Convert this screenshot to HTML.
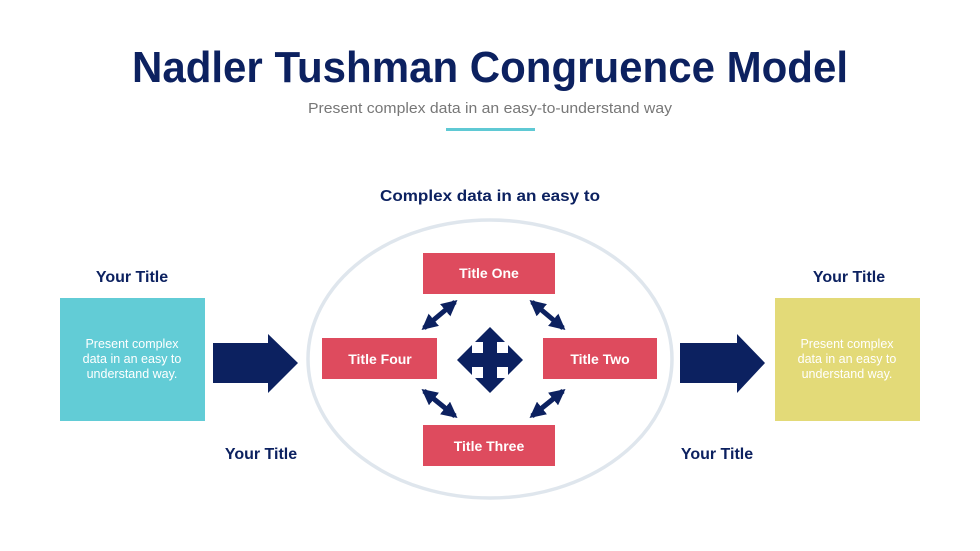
<!DOCTYPE html>
<html><head><meta charset="utf-8"><style>
html,body{margin:0;padding:0;background:#fff;width:980px;height:551px;overflow:hidden}
svg{display:block}
text{font-family:"Liberation Sans",sans-serif}
</style></head><body>
<svg width="980" height="551" viewBox="0 0 980 551">
<defs>
<marker id="ah" viewBox="0 0 10 10" refX="8" refY="5" markerWidth="3.2" markerHeight="3.2" orient="auto-start-reverse">
<path d="M0,0 L10,5 L0,10 z" fill="#0c2160"/></marker>
</defs>
<text x="490" y="82" text-anchor="middle" font-size="44" font-weight="bold" fill="#0c2160" textLength="716" lengthAdjust="spacingAndGlyphs">Nadler Tushman Congruence Model</text>
<text x="490" y="113" text-anchor="middle" font-size="15" fill="#777" textLength="364" lengthAdjust="spacingAndGlyphs">Present complex data in an easy-to-understand way</text>
<rect x="446" y="128" width="89" height="3" fill="#5fc9d4"/>
<text x="490" y="201" text-anchor="middle" font-size="16" font-weight="bold" fill="#0c2160" textLength="220" lengthAdjust="spacingAndGlyphs">Complex data in an easy to</text>

<ellipse cx="490" cy="359" rx="182" ry="139" fill="none" stroke="#dfe6ed" stroke-width="3.5"/>

<rect x="60" y="298" width="145" height="123" fill="#62ccd6"/>
<text x="132" y="348" text-anchor="middle" font-size="12.5" fill="#fff">Present complex</text>
<text x="132" y="363" text-anchor="middle" font-size="12.5" fill="#fff">data in an easy to</text>
<text x="132" y="378" text-anchor="middle" font-size="12.5" fill="#fff">understand way.</text>
<text x="132" y="282" text-anchor="middle" font-size="16" font-weight="bold" fill="#0c2160">Your Title</text>

<rect x="775" y="298" width="145" height="123" fill="#e3da78"/>
<text x="847" y="348" text-anchor="middle" font-size="12.5" fill="#fff">Present complex</text>
<text x="847" y="363" text-anchor="middle" font-size="12.5" fill="#fff">data in an easy to</text>
<text x="847" y="378" text-anchor="middle" font-size="12.5" fill="#fff">understand way.</text>
<text x="849" y="282" text-anchor="middle" font-size="16" font-weight="bold" fill="#0c2160">Your Title</text>

<text x="261" y="459" text-anchor="middle" font-size="16" font-weight="bold" fill="#0c2160">Your Title</text>
<text x="717" y="459" text-anchor="middle" font-size="16" font-weight="bold" fill="#0c2160">Your Title</text>

<polygon points="213,343 268,343 268,334 298,363 268,393 268,383 213,383" fill="#0c2160"/>
<polygon points="680,343 737,343 737,334 765,363 737,393 737,383 680,383" fill="#0c2160"/>

<rect x="423" y="253" width="132" height="41" fill="#de4b5e"/>
<text x="489" y="278" text-anchor="middle" font-size="14" font-weight="bold" fill="#fff">Title One</text>
<rect x="322" y="338" width="115" height="41" fill="#de4b5e"/>
<text x="380" y="364" text-anchor="middle" font-size="14" font-weight="bold" fill="#fff">Title Four</text>
<rect x="543" y="338" width="114" height="41" fill="#de4b5e"/>
<text x="600" y="364" text-anchor="middle" font-size="14" font-weight="bold" fill="#fff">Title Two</text>
<rect x="423" y="425" width="132" height="41" fill="#de4b5e"/>
<text x="489" y="451" text-anchor="middle" font-size="14" font-weight="bold" fill="#fff">Title Three</text>

<g stroke="#0c2160" stroke-width="5" marker-start="url(#ah)" marker-end="url(#ah)">
<line x1="455" y1="302" x2="424" y2="328"/>
<line x1="532" y1="302" x2="563" y2="328"/>
<line x1="424" y1="391" x2="455" y2="416"/>
<line x1="563" y1="391" x2="532" y2="416"/>
</g>

<polygon fill="#0c2160" points="490,327 505,342 497,342 497,353 508,353 508,345 523,360 508,375 508,367 497,367 497,378 505,378 490,393 475,378 483,378 483,367 472,367 472,375 457,360 472,345 472,353 483,353 483,342 475,342"/>
</svg>
</body></html>
